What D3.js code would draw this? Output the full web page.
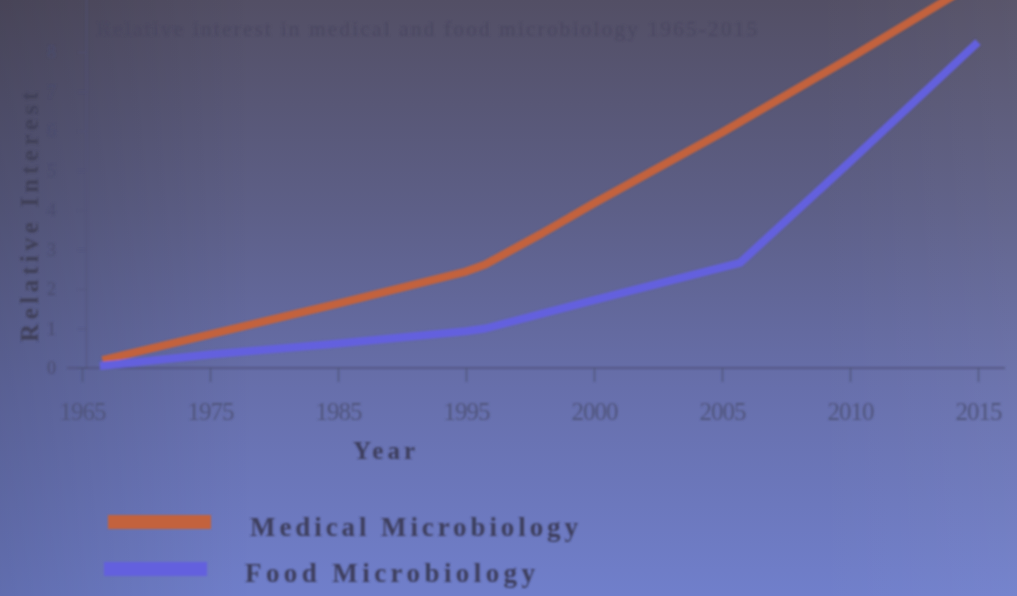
<!DOCTYPE html>
<html>
<head>
<meta charset="utf-8">
<title>relative interest</title>
<script src="https://d3js.org/d3.v7.min.js"></script>
<style>
  html, body { margin: 0; padding: 0; overflow: hidden; }
  svg { display: block; }
</style>
</head>
<body>
<svg></svg>
<script>
// category labels on the x axis (equally spaced)
const years = ["1965", "1975", "1985", "1995", "2000", "2005", "2010", "2015"];
const yTicks = [0, 1, 2, 3, 4, 5, 6, 7, 8];

// [category position, relative interest]
const medical = [[0.16, 0.2], [1, 0.85], [2, 1.63], [3, 2.44], [3.15, 2.62], [3.6, 3.42], [4, 4.17], [5, 5.96], [6, 7.85], [7, 9.8]];
const food = [[0.14, 0.05], [1, 0.34], [2, 0.62], [3, 0.93], [3.15, 1.0], [4, 1.72], [5.14, 2.66], [6, 5.22], [7, 8.25]];

const seriesNames = ["Medical Microbiology", "Food Microbiology"];
const seriesColors = ["#c3623e", "#6460de"];

const width = 1017, height = 596;
const svg = d3.select("svg").attr("width", width).attr("height", height);

const defs = svg.append("defs");
const bg = defs.append("linearGradient").attr("id", "bg").attr("x1", 0).attr("y1", 0).attr("x2", 0).attr("y2", 1);
bg.append("stop").attr("offset", "0%").attr("stop-color", "#534f65");
bg.append("stop").attr("offset", "35%").attr("stop-color", "#5d5f87");
bg.append("stop").attr("offset", "65%").attr("stop-color", "#676fab");
bg.append("stop").attr("offset", "100%").attr("stop-color", "#707fcb");
const vig = defs.append("linearGradient").attr("id", "vig").attr("x1", 0).attr("y1", 0).attr("x2", 1).attr("y2", 0);
vig.append("stop").attr("offset", "0%").attr("stop-color", "#000").attr("stop-opacity", 0.14);
vig.append("stop").attr("offset", "25%").attr("stop-color", "#000").attr("stop-opacity", 0);
vig.append("stop").attr("offset", "80%").attr("stop-color", "#fff").attr("stop-opacity", 0);
vig.append("stop").attr("offset", "100%").attr("stop-color", "#fff").attr("stop-opacity", 0.04);
defs.append("filter").attr("id", "soft").append("feGaussianBlur").attr("stdDeviation", 0.9);

svg.append("rect").attr("width", width).attr("height", height).attr("fill", "url(#bg)");
svg.append("rect").attr("width", width).attr("height", height).attr("fill", "url(#vig)");

const g = svg.append("g").attr("filter", "url(#soft)");

const x = d3.scaleLinear().domain([0, years.length - 1]).range([82, 978]);
const y = d3.scaleLinear().domain([0, 10]).range([368, -27]);

const textCol = "#3c3e5c";
const serif = "'Liberation Serif', 'DejaVu Serif', serif";

// title (very faint in the photo)
g.append("text")
  .attr("x", 97).attr("y", 36)
  .attr("font-family", serif).attr("font-size", 21)
  .attr("fill", "#4a4761")
  .attr("textLength", 660).attr("lengthAdjust", "spacing")
  .text("Relative interest in medical and food microbiology 1965-2015");

// x axis
const xAxis = g.append("g")
  .attr("transform", `translate(0,${y(0)})`)
  .call(d3.axisBottom(x).tickValues(d3.range(years.length)).tickFormat(i => years[i]).tickSize(14).tickPadding(20));
xAxis.select(".domain").remove();
xAxis.selectAll("line").attr("stroke", "#50537a").attr("stroke-width", 1.3);
xAxis.selectAll("text")
  .attr("font-family", serif).attr("font-size", 25)
  .attr("fill", "#50547c").attr("letter-spacing", -1);
g.append("line")
  .attr("x1", 67).attr("x2", 1005).attr("y1", y(0)).attr("y2", y(0))
  .attr("stroke", "#50537a").attr("stroke-width", 1.5);

// y axis
const yAxis = g.append("g")
  .attr("transform", "translate(86,0)")
  .call(d3.axisLeft(y).tickValues(yTicks).tickSize(8).tickPadding(22));
yAxis.select(".domain").attr("stroke", "#4f5278").attr("stroke-width", 1.1).attr("stroke-opacity", 0.7);
yAxis.selectAll("line").attr("stroke", "#4f5278").attr("stroke-opacity", 0.6);
yAxis.selectAll("text")
  .attr("font-family", serif).attr("font-size", 18)
  .attr("fill", "#4a4c6e");

// axis titles
g.append("text")
  .attr("transform", "translate(38,342) rotate(-90)")
  .attr("font-family", serif).attr("font-size", 25).attr("font-weight", "bold")
  .attr("fill", "#404059")
  .attr("textLength", 250).attr("lengthAdjust", "spacing")
  .text("Relative Interest");

g.append("text")
  .attr("x", 386).attr("y", 459)
  .attr("text-anchor", "middle")
  .attr("font-family", serif).attr("font-size", 25).attr("font-weight", "bold")
  .attr("fill", textCol).attr("letter-spacing", 4)
  .text("Year");

// lines
const line = d3.line().x(d => x(d[0])).y(d => y(d[1]));
[medical, food].forEach((data, i) => {
  g.append("path")
    .datum(data)
    .attr("fill", "none")
    .attr("stroke", seriesColors[i])
    .attr("stroke-width", 8)
    .attr("stroke-linejoin", "round")
    .attr("d", line);
});

// legend
const legendRows = [
  { sx: 108, sy: 515, tx: 250, ty: 536, tl: 328 },
  { sx: 104, sy: 562, tx: 245, ty: 582, tl: 290 }
];
seriesNames.forEach((name, i) => {
  const r = legendRows[i];
  g.append("rect")
    .attr("x", r.sx).attr("y", r.sy).attr("width", 103).attr("height", 14)
    .attr("fill", seriesColors[i]);
  g.append("text")
    .attr("x", r.tx).attr("y", r.ty)
    .attr("font-family", serif).attr("font-size", 27).attr("font-weight", "bold")
    .attr("fill", textCol)
    .attr("textLength", r.tl).attr("lengthAdjust", "spacing")
    .text(name);
});
</script>
</body>
</html>
